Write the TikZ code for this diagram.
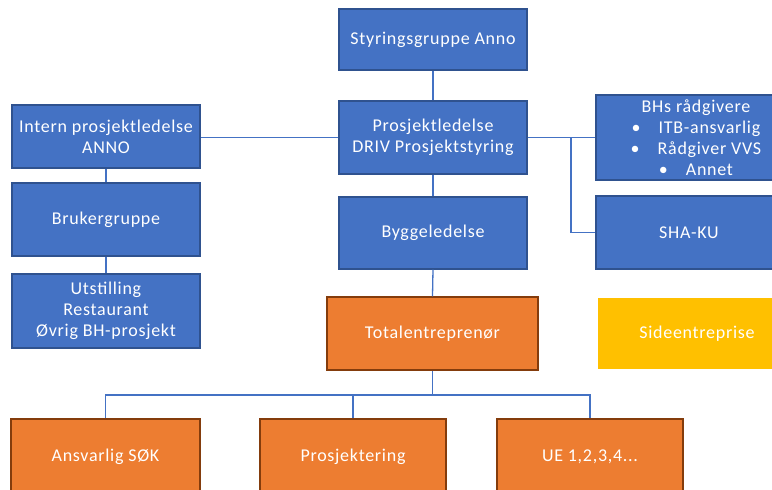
\documentclass[tikz,border=0pt]{standalone}
\usepackage{fontspec}
\setmainfont{Carlito}[LetterSpace=4]
\definecolor{fillblue}{HTML}{4472C4}
\definecolor{bordblue}{HTML}{2F528F}
\definecolor{fillorange}{HTML}{ED7D31}
\definecolor{bordorange}{HTML}{843C0C}
\definecolor{fillyellow}{HTML}{FFC000}
\definecolor{lineblue}{HTML}{4472C4}
\begin{document}
\begin{tikzpicture}[x=1pt,y=-1pt,
  boxbase/.style={text=white, align=center, inner sep=0pt, line width=1.2pt,
    font=\fontsize{18}{21}\selectfont},
  bluebox/.style={boxbase, draw=bordblue, fill=fillblue},
  orangebox/.style={boxbase, draw=bordorange, fill=fillorange},
  yellowbox/.style={boxbase, fill=fillyellow},
  conn/.style={draw=lineblue, line width=1.3pt}]
\useasboundingbox (0,0) rectangle (772,490);
\clip (0,0) rectangle (772,490);
\fill[white] (0,0) rectangle (772,490);
% nodes
\node[bluebox, minimum width=188pt, minimum height=61pt] (sty) at (433,39.5) {Styringsgruppe Anno};
\node[bluebox, minimum width=188pt, minimum height=73pt] (pl) at (433,137.5) {Prosjektledelse\\DRIV Prosjektstyring};
\node[bluebox, minimum width=188pt, minimum height=63pt] (intern) at (106,136.5) {Intern prosjektledelse\\ANNO};
\node[bluebox, minimum width=188pt, minimum height=73pt] (bruker) at (106,219.5) {Brukergruppe};
\node[bluebox, minimum width=188pt, minimum height=74pt] (utst) at (106,311) {Utstilling\\Restaurant\\Øvrig BH-prosjekt};
\node[bluebox, minimum width=188pt, minimum height=72pt] (bygg) at (433,233) {Byggeledelse};
\node[bluebox, minimum width=200pt, minimum height=85pt] (bhs) at (696,137.5) {BHs rådgivere\\•\hspace{18pt}ITB-ansvarlig\\•\hspace{18pt}Rådgiver VVS\\•\hspace{18pt}Annet};
\node[bluebox, minimum width=186pt, minimum height=73pt] (sha) at (689,232.5) {SHA-KU};
\node[orangebox, minimum width=211pt, minimum height=73pt] (total) at (432.5,333.5) {Totalentreprenør};
\node[yellowbox, minimum width=198pt, minimum height=71pt] (side) at (697,333.5) {Sideentreprise};
\node[orangebox, minimum width=189pt, minimum height=76pt] (ans) at (105.5,457) {Ansvarlig SØK};
\node[orangebox, minimum width=186pt, minimum height=76pt] (pro) at (353,457) {Prosjektering};
\node[orangebox, minimum width=186pt, minimum height=76pt] (ue) at (590,457) {UE 1,2,3,4...};
% connectors
\coordinate (br) at (571,137.5);
\coordinate (bus) at (432.5,395);
\draw[conn] (sty.south) -- (pl.north);
\draw[conn] (pl.west) -- (pl.west -| intern.east);
\draw[conn] (pl.east) -- (bhs.west);
\draw[conn] (br) |- (sha.west);
\draw[conn] (intern.south) -- (bruker.north);
\draw[conn] (bruker.south) -- (utst.north);
\draw[conn] (pl.south) -- (bygg.north);
\draw[conn] (bygg.south) -- (total.north);
\draw[conn] (total.south) -- (bus);
\draw[conn] (bus) -| (ans.north);
\draw[conn] (bus) -| (pro.north);
\draw[conn] (bus) -| (ue.north);
\end{tikzpicture}
\end{document}
